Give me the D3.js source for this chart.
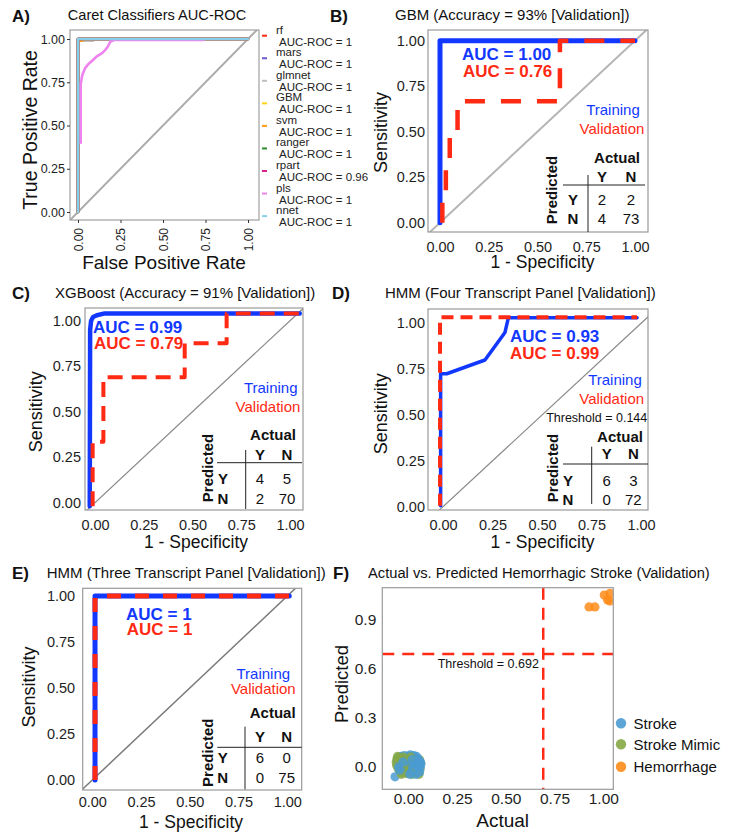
<!DOCTYPE html>
<html><head><meta charset="utf-8">
<script src="https://cdn.jsdelivr.net/npm/d3@7"></script>
<style>body{margin:0;background:#fff}svg{display:block}text{font-family:"Liberation Sans",Arial,Helvetica,sans-serif}</style>
</head><body><svg id="c" width="730" height="840"></svg>
<script>
// ================= DATA =================
const rocTicks = [0, 0.25, 0.5, 0.75, 1];
const rocTickLabels = ["0.00", "0.25", "0.50", "0.75", "1.00"];

// Panel A – caret classifiers
const caretModels = ["rf", "mars", "glmnet", "GBM", "svm", "ranger", "rpart", "pls", "nnet"];
const caretAUC = ["1", "1", "1", "1", "1", "1", "0.96", "1", "1"];
const rocRf = [[0,0],[0,1],[1,1]];
const rocMars = [[0,0],[0,1],[1,1]];
const rocGlmnet = [[0,0],[0,0.99],[0.09,0.99],[0.09,1],[1,1]];
const rocGBMcaret = [[0,0],[0,1],[1,1]];
const rocSvm = [[0,0],[0,0.99],[0.025,0.99],[0.025,1],[1,1]];
const rocRanger = [[0,0],[0,1],[1,1]];
const rocRpart = [[0,0],[0,1],[1,1]];
const rocPls = [[0.016,0.40],[0.016,0.74],[0.025,0.79],[0.041,0.83],[0.06,0.854],[0.09,0.88],[0.11,0.90],[0.14,0.917],[0.16,0.936],[0.175,0.955],[0.19,0.984],[0.21,0.994],[0.74,0.994]];
const rocNnet = [[0,0],[0,1],[1,1]];

// Panel B – GBM
const gbmTrain = [[0,0],[0,1],[1,1]];
const gbmValid = [[0.012,0],[0.012,0.167],[0.03,0.167],[0.03,0.333],[0.05,0.333],[0.05,0.5],[0.09,0.5],[0.09,0.667],[0.615,0.667],[0.615,1],[1,1]];
const gbmAUC = ["AUC = 1.00", "AUC = 0.76"];
const gbmCM = [[2,2],[4,73]];

// Panel C – XGBoost
const xgbTrain = [[-0.027,-0.02],[-0.025,0.95],[-0.02,1.0],[-0.01,1.02],[0.01,1.03],[0.05,1.04],[1.05,1.04]];
const xgbValid = [[-0.012,-0.02],[-0.012,0.335],[0.043,0.335],[0.043,0.689],[0.46,0.689],[0.46,0.876],[0.675,0.876],[0.675,1.04],[1.05,1.04]];
const xgbAUC = ["AUC = 0.99", "AUC = 0.79"];
const xgbCM = [[4,5],[2,70]];

// Panel D – HMM four transcripts
const hmm4Train = [[-0.012,0.005],[-0.012,0.725],[0.019,0.725],[0.212,0.80],[0.313,0.95],[0.33,1.03],[0.98,1.03]];
const hmm4Valid = [[-0.015,0.005],[-0.015,1.033],[0.98,1.033]];
const hmm4AUC = ["AUC = 0.93", "AUC = 0.99"];
const hmm4CM = [[6,3],[0,72]];
const hmm4Threshold = "Threshold = 0.144";

// Panel E – HMM three transcripts
const hmm3Train = [[0.014,0],[0.014,1],[1.01,1]];
const hmm3Valid = [[0.014,0],[0.014,1],[1.01,1]];
const hmm3AUC = ["AUC = 1", "AUC = 1"];
const hmm3CM = [[6,0],[0,75]];

// Panel F – actual vs predicted
const fYTicks = [0, 0.3, 0.6, 0.9];
const fYTickLabels = ["0.0", "0.3", "0.6", "0.9"];
const fThreshold = 0.692;
const fGroups = ["Stroke", "Stroke Mimic", "Hemorrhage"];
const strokePts = [[-0.068,-0.060],[-0.055,0.045],[-0.048,0.060],[-0.040,0.020],[-0.035,0.065],[-0.030,-0.010],[-0.025,0.040],[-0.020,0.070],[-0.018,0.005],[-0.012,-0.030],[-0.010,0.050],[-0.005,0.025],[0.000,0.065],[0.002,-0.010],[0.005,0.040],[0.010,0.075],[0.012,0.015],[0.015,-0.035],[0.018,0.055],[0.022,0.000],[0.025,0.030],[0.028,0.070],[0.030,-0.020],[0.035,0.045],[0.038,0.010],[0.040,-0.045],[0.042,0.065],[0.045,0.025],[0.048,-0.005],[0.050,0.050],[0.055,0.015],[0.058,-0.030],[0.060,0.035],[0.062,0.000],[0.065,0.020],[-0.050,0.000],[-0.045,-0.020],[0.008,-0.045],[-0.028,0.030],[0.020,0.045]];
const mimicPts = [[-0.062,0.030],[-0.060,0.010],[-0.058,0.050],[-0.052,-0.010],[-0.050,0.035],[-0.045,0.055],[-0.042,-0.025],[-0.038,0.005],[-0.032,0.045],[-0.030,-0.035],[-0.022,0.015],[-0.015,-0.015],[-0.010,0.030],[-0.008,-0.040],[0.000,0.010],[0.005,-0.025],[0.010,0.030],[0.015,-0.005],[0.020,-0.045],[0.025,0.020],[0.030,0.060],[0.035,-0.030],[0.040,0.035],[0.045,-0.020],[0.050,0.005],[0.055,-0.045],[0.058,0.045],[0.060,-0.015],[0.063,0.025],[-0.025,0.060],[-0.055,0.065],[0.012,0.060],[-0.035,-0.045]];
const hemPts = [[0.927,0.98],[0.957,0.98],[1.005,1.053],[1.034,1.064],[1.022,1.023],[1.034,1.016]];

// ================= STYLE / LAYOUT =================
const BLUE = "#1238ff", RED = "#ff2a14";
const caretColors = ["#ff2a14", "#6a5acd", "#bebebe", "#ffd21a", "#ff9a1a", "#2e8b2e", "#d6208a", "#ee82ee", "#87ceeb"];
const fColors = ["#4a9bd2", "#86a845", "#ff8c1a"];
const FF = '"Liberation Sans",Arial,sans-serif';

const svg = d3.select("#c");
svg.append("rect").attr("width", 730).attr("height", 840).attr("fill", "#fff");

let clipId = 0;
function makePanel(cfg) {
  const x = d3.scaleLinear().domain([0, 1]).range([cfg.x0, cfg.x1]);
  const y = d3.scaleLinear().domain([0, 1]).range([cfg.y0, cfg.y1]);
  const [l, t, r, b] = cfg.rect;
  const id = "clip" + (clipId++);
  svg.append("clipPath").attr("id", id).append("rect").attr("x", l).attr("y", t).attr("width", r - l).attr("height", b - t);
  const plot = svg.append("g").attr("clip-path", `url(#${id})`);
  return {x, y, l, t, r, b, plot};
}
function border(p, color) {
  svg.append("rect").attr("x", p.l).attr("y", p.t).attr("width", p.r - p.l).attr("height", p.b - p.t)
    .attr("fill", "none").attr("stroke", color || "#9a9a9a").attr("stroke-width", 1.2);
}
function diagonal(p, color, w) {
  const lo = Math.min(p.x.invert(p.l), p.y.invert(p.b)) - 0.1;
  const hi = Math.max(p.x.invert(p.r), p.y.invert(p.t)) + 0.1;
  p.plot.append("line").attr("x1", p.x(lo)).attr("y1", p.y(lo)).attr("x2", p.x(hi)).attr("y2", p.y(hi))
    .attr("stroke", color).attr("stroke-width", w);
}
function curve(p, pts, color, w, dash) {
  const line = d3.line().x(d => p.x(d[0])).y(d => p.y(d[1]));
  const path = p.plot.append("path").attr("d", line(pts)).attr("fill", "none").attr("stroke", color)
    .attr("stroke-width", w).attr("stroke-linejoin", "round");
  if (dash) path.attr("stroke-dasharray", dash).attr("stroke-linecap", "butt");
  else path.attr("stroke-linecap", "round");
}
function styleAxis(g, fs) {
  g.select(".domain").remove();
  g.selectAll("text").attr("font-size", fs).attr("fill", "#1e1e1e").attr("font-family", FF);
  g.selectAll("line").attr("stroke", "#333");
}
function yAxis(p, ticks, labels, fs, pad, size) {
  const g = svg.append("g").attr("transform", `translate(${p.l},0)`)
    .call(d3.axisLeft(p.y).tickValues(ticks).tickFormat((d, i) => labels[i]).tickSize(size || 0).tickPadding(pad));
  styleAxis(g, fs);
}
function xAxis(p, ticks, labels, fs, pad) {
  const g = svg.append("g").attr("transform", `translate(0,${p.b})`)
    .call(d3.axisBottom(p.x).tickValues(ticks).tickFormat((d, i) => labels[i]).tickSize(0).tickPadding(pad));
  styleAxis(g, fs);
}
function text(x, y, s, o) {
  o = o || {};
  const t = svg.append("text").attr("x", x).attr("y", y).text(s)
    .attr("font-size", o.fs || 15).attr("fill", o.fill || "#111").attr("font-family", FF)
    .attr("text-anchor", o.anchor || "start");
  if (o.bold) t.attr("font-weight", "bold");
  if (o.rot) t.attr("transform", `rotate(${o.rot},${x},${y})`);
  if (o.dy) t.attr("dy", o.dy);
  return t;
}
function vtitle(cx, cy, s, fs, bold) {
  return text(cx, cy, s, {fs, anchor: "middle", rot: -90, dy: "0.35em", bold});
}
function confusion(cm, L) {
  const fs = 15;
  text(L.actX, L.actY, "Actual", {fs, bold: true, anchor: "middle"});
  text(L.colX[0], L.hdrY, "Y", {fs, bold: true, anchor: "middle"});
  text(L.colX[1], L.hdrY, "N", {fs, bold: true, anchor: "middle"});
  svg.append("line").attr("x1", L.hx[0]).attr("x2", L.hx[1]).attr("y1", L.hy).attr("y2", L.hy).attr("stroke", "#222").attr("stroke-width", 1);
  svg.append("line").attr("x1", L.vx).attr("x2", L.vx).attr("y1", L.vy[0]).attr("y2", L.vy[1]).attr("stroke", "#222").attr("stroke-width", 1);
  ["Y", "N"].forEach((r, i) => {
    text(L.rowLX, L.rowY[i], r, {fs, bold: true, anchor: "middle"});
    cm[i].forEach((v, j) => text(L.colX[j], L.rowY[i], String(v), {fs, anchor: "middle"}));
  });
  vtitle(L.predX, L.predY, "Predicted", fs, true);
}
function rocPanel(cfg) {
  const p = makePanel(cfg);
  diagonal(p, cfg.diagColor, cfg.diagW);
  curve(p, cfg.train, BLUE, cfg.trainW);
  curve(p, cfg.valid, RED, cfg.validW, cfg.dash);
  border(p);
  yAxis(p, rocTicks, rocTickLabels, cfg.tickFs, cfg.yPad);
  xAxis(p, rocTicks, rocTickLabels, cfg.tickFs, cfg.xPad);
  vtitle(cfg.yTitle[0], cfg.yTitle[1], "Sensitivity", 18);
  text(cfg.xTitle[0], cfg.xTitle[1], "1 - Specificity", {fs: 17.5, anchor: "middle"});
  text(cfg.title[0], cfg.title[1], cfg.titleText, {fs: 15});
  text(cfg.auc[0], cfg.auc[1], cfg.aucText[0], {fs: 17, bold: true, fill: BLUE});
  text(cfg.auc[2], cfg.auc[3], cfg.aucText[1], {fs: 17, bold: true, fill: RED});
  text(cfg.tv[0], cfg.tv[1], "Training", {fs: 15, anchor: "middle", fill: BLUE});
  text(cfg.tv[2], cfg.tv[3], "Validation", {fs: 15, anchor: "middle", fill: RED});
  confusion(cfg.cm, cfg.table);
  return p;
}

// ================= PANEL A =================
{
  const p = makePanel({x0: 78, x1: 248, y0: 212, y1: 39, rect: [70, 30, 259, 220]});
  diagonal(p, "#ababab", 2);
  const curves = [rocRf, rocMars, rocGlmnet, rocGBMcaret, rocSvm, rocRanger, rocRpart, rocPls, rocNnet];
  curves.forEach((c, i) => curve(p, c, caretColors[i], 2.6));
  border(p, "#a0a0a0");
  const gy = svg.append("g").attr("transform", `translate(${p.l},0)`)
    .call(d3.axisLeft(p.y).tickValues(rocTicks).tickFormat((d, i) => rocTickLabels[i]).tickSize(3).tickPadding(2));
  styleAxis(gy, 12.5);
  const gx = svg.append("g").attr("transform", `translate(0,${p.b})`)
    .call(d3.axisBottom(p.x).tickValues(rocTicks).tickFormat((d, i) => rocTickLabels[i]).tickSize(3));
  styleAxis(gx, 12);
  gx.selectAll("text").attr("transform", "rotate(-90)").attr("x", -8).attr("y", 0).attr("dy", "0.35em").attr("text-anchor", "end");
  vtitle(30, 130, "True Positive Rate", 19.5);
  text(164, 269, "False Positive Rate", {fs: 19, anchor: "middle"});
  text(157, 20, "Caret Classifiers AUC-ROC", {fs: 14.6, anchor: "middle"});
  // legend
  caretModels.forEach((m, i) => {
    const cy = 35.7 + i * 22.55;
    svg.append("line").attr("x1", 262).attr("x2", 267).attr("y1", cy).attr("y2", cy).attr("stroke", caretColors[i]).attr("stroke-width", 2);
    text(276, cy - 2, m, {fs: 11.5, fill: "#222"});
    text(279, cy + 10, "AUC-ROC = " + caretAUC[i], {fs: 11.5, fill: "#222"});
  });
}

// ================= PANEL B =================
rocPanel({
  x0: 440, x1: 635, y0: 222.7, y1: 40.7, rect: [428, 30, 648, 232],
  diagColor: "#b5b5b5", diagW: 2, train: gbmTrain, valid: gbmValid, trainW: 5, validW: 4.5, dash: "20,16",
  tickFs: 14.5, yPad: 3, xPad: 9.5, yTitle: [381, 132.5], xTitle: [542.5, 268],
  title: [395, 20], titleText: "GBM (Accuracy = 93% [Validation])",
  auc: [462, 60, 463, 76.5], aucText: gbmAUC, tv: [613, 114.5, 612, 133.5], cm: gbmCM,
  table: {actX: 617, actY: 163, colX: [602, 631], hdrY: 182, hx: [563, 645], hy: 185, vx: 588, vy: [175, 232], rowLX: 573, rowY: [205, 224], predX: 552, predY: 190}
});

// ================= PANEL C =================
rocPanel({
  x0: 95, x1: 290, y0: 502.7, y1: 320.7, rect: [85, 308, 303, 510],
  diagColor: "#8a8a8a", diagW: 1.2, train: xgbTrain, valid: xgbValid, trainW: 4.5, validW: 4, dash: "15,9",
  tickFs: 14.5, yPad: 4, xPad: 9.5, yTitle: [36, 411.7], xTitle: [196, 548],
  title: [55, 298], titleText: "XGBoost (Accuracy = 91% [Validation])",
  auc: [93, 333, 94, 349], aucText: xgbAUC, tv: [270.7, 393, 268, 412], cm: xgbCM,
  table: {actX: 273, actY: 440, colX: [260, 287], hdrY: 460, hx: [217, 302], hy: 462.7, vx: 245.7, vy: [450, 509], rowLX: 223, rowY: [484, 504], predX: 208, predY: 468}
});

// ================= PANEL D =================
rocPanel({
  x0: 443, x1: 641, y0: 506.7, y1: 323.3, rect: [428, 309, 648, 510],
  diagColor: "#8a8a8a", diagW: 1.2, train: hmm4Train, valid: hmm4Valid, trainW: 3.5, validW: 4, dash: "12,7",
  tickFs: 14.5, yPad: 3, xPad: 9.5, yTitle: [381, 413.7], xTitle: [542.5, 548],
  title: [385, 297.7], titleText: "HMM (Four Transcript Panel [Validation])",
  auc: [510, 341.7, 510, 359], aucText: hmm4AUC, tv: [615, 385, 611.7, 404], cm: hmm4CM,
  table: {actX: 620, actY: 441.7, colX: [606.7, 633.3], hdrY: 459, hx: [563, 648], hy: 464, vx: 591.7, vy: [446.7, 504], rowLX: 568, rowY: [485.7, 505], predX: 553, predY: 468}
});
text(596.7, 421.7, hmm4Threshold, {fs: 12.5, anchor: "middle"});

// ================= PANEL E =================
rocPanel({
  x0: 92.3, x1: 287.3, y0: 780, y1: 596, rect: [82.7, 588.3, 301.7, 790],
  diagColor: "#7a7a7a", diagW: 1.5, train: hmm3Train, valid: hmm3Valid, trainW: 5, validW: 5, dash: "14,14",
  tickFs: 14.5, yPad: 7.5, xPad: 6.5, yTitle: [28.5, 687], xTitle: [191, 828],
  title: [46.7, 578.3], titleText: "HMM (Three Transcript Panel [Validation])",
  auc: [126, 620, 126.7, 635], aucText: hmm3AUC, tv: [263.3, 679, 263.3, 694], cm: hmm3CM,
  table: {actX: 272.7, actY: 718.3, colX: [260, 286.7], hdrY: 741.7, hx: [217.3, 301.7], hy: 747.3, vx: 245, vy: [726.7, 789.3], rowLX: 222.7, rowY: [763.3, 783.3], predX: 207.3, predY: 752.7}
});

// ================= PANEL F =================
{
  const p = makePanel({x0: 408.3, x1: 603.3, y0: 767, y1: 603.7, rect: [382.3, 587.7, 613.3, 789.3]});
  // interleave the two low-probability groups so both colours show through, hemorrhage last
  const drawList = [];
  const n = Math.max(strokePts.length, mimicPts.length);
  for (let i = 0; i < n; i++) {
    if (i < mimicPts.length) drawList.push({d: mimicPts[i], k: 1});
    if (i < strokePts.length) drawList.push({d: strokePts[i], k: 0});
  }
  hemPts.forEach(d => drawList.push({d, k: 2}));
  p.plot.selectAll(null).data(drawList).enter().append("circle")
    .attr("cx", o => p.x(o.d[0])).attr("cy", o => p.y(o.d[1])).attr("r", 4.6)
    .attr("fill", o => fColors[o.k]).attr("fill-opacity", 0.85);
  p.plot.append("line").attr("x1", p.x(fThreshold)).attr("x2", p.x(fThreshold)).attr("y1", p.t).attr("y2", p.b)
    .attr("stroke", RED).attr("stroke-width", 2.5).attr("stroke-dasharray", "12,8");
  p.plot.append("line").attr("x1", p.l).attr("x2", p.r).attr("y1", p.y(fThreshold)).attr("y2", p.y(fThreshold))
    .attr("stroke", RED).attr("stroke-width", 2.5).attr("stroke-dasharray", "12,8");
  border(p);
  yAxis(p, fYTicks, fYTickLabels, 15.5, 6);
  xAxis(p, rocTicks, rocTickLabels, 15.5, 4);
  text(488.3, 668.3, "Threshold = " + fThreshold, {fs: 12.5, anchor: "middle"});
  vtitle(342, 684, "Predicted", 18.5);
  text(502.7, 827, "Actual", {fs: 19, anchor: "middle"});
  text(368, 578.3, "Actual vs. Predicted Hemorrhagic Stroke (Validation)", {fs: 14.7});
  fGroups.forEach((g, i) => {
    const cy = [723.3, 744.3, 766.7][i];
    svg.append("circle").attr("cx", 621).attr("cy", cy).attr("r", 5.2).attr("fill", fColors[i]).attr("fill-opacity", 0.9);
    text(633.5, cy + 5.3, g, {fs: 15});
  });
}

// ================= PANEL LETTERS =================
[["A)", 12, 21.5], ["B)", 330, 21.5], ["C)", 12, 298.5], ["D)", 332, 298.5], ["E)", 12, 578.5], ["F)", 333, 578.5]]
  .forEach(d => text(d[1], d[2], d[0], {fs: 17, bold: true}));
</script></body></html>
